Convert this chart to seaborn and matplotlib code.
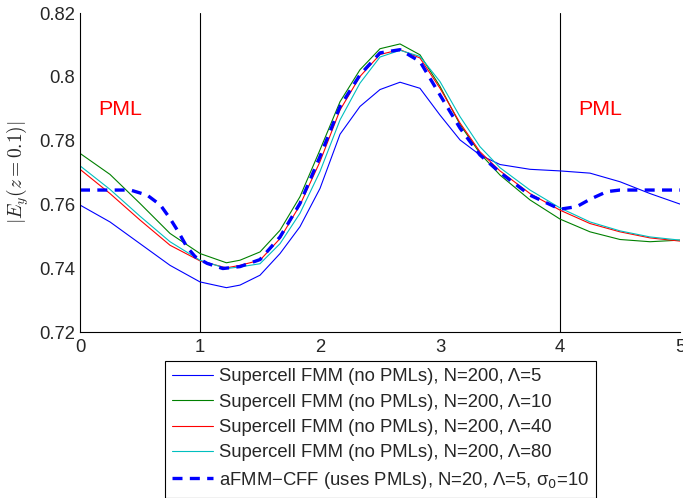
import numpy as np
import pandas as pd
import matplotlib
matplotlib.use("Agg")
import matplotlib.pyplot as plt
import seaborn as sns

# x positions (supercell curves share one grid)
x_sc = [0, 0.25, 0.5, 0.75, 1.0, 1.22, 1.333, 1.5, 1.667, 1.833, 2.0, 2.167,
        2.333, 2.5, 2.667, 2.833, 3.0, 3.167, 3.333, 3.5, 3.75, 4.0, 4.25,
        4.5, 4.75, 5.0]

lam5 = [0.7598, 0.7545, 0.7477, 0.7409, 0.7357, 0.7339, 0.7347, 0.7378,
        0.7446, 0.7530, 0.7650, 0.7820, 0.7907, 0.7960, 0.7983, 0.7964,
        0.7880, 0.7802, 0.7755, 0.7725, 0.7710, 0.7705, 0.7698, 0.7671,
        0.7634, 0.7601]
lam10 = [0.7760, 0.7694, 0.7603, 0.7509, 0.7446, 0.7417, 0.7425, 0.7451,
         0.7519, 0.7624, 0.7771, 0.7922, 0.8022, 0.8088, 0.8103, 0.8069,
         0.7970, 0.7850, 0.7760, 0.7692, 0.7614, 0.7554, 0.7514, 0.7490,
         0.7483, 0.7488]
lam40 = [0.7710, 0.7634, 0.7551, 0.7472, 0.7423, 0.7401, 0.7409, 0.7425,
         0.7493, 0.7598, 0.7734, 0.7896, 0.8001, 0.8070, 0.8085, 0.8059,
         0.7964, 0.7855, 0.7765, 0.7705, 0.7634, 0.7582, 0.7540, 0.7514,
         0.7495, 0.7485]
lam80 = [0.7721, 0.7647, 0.7563, 0.7483, 0.7425, 0.7399, 0.7404, 0.7414,
         0.7477, 0.7572, 0.7703, 0.7865, 0.7980, 0.8062, 0.8083, 0.8064,
         0.7985, 0.7875, 0.7781, 0.7715, 0.7645, 0.7589, 0.7545, 0.7517,
         0.7498, 0.7488]

x_pml = [0, 0.42, 0.56, 0.67, 0.75, 0.82, 0.89, 0.96, 1.06, 1.19, 1.333, 1.5,
         1.667, 1.833, 2.0, 2.167, 2.333, 2.5, 2.667, 2.833, 3.0, 3.167, 3.333,
         3.5, 3.75, 4.0, 4.14, 4.25, 4.39, 4.5, 5.0]
afmm = [0.7645, 0.7645, 0.7629, 0.7598, 0.7556, 0.7514, 0.7467, 0.7436,
        0.7415, 0.7399, 0.7405, 0.7427, 0.7498, 0.7603, 0.7750, 0.7907,
        0.8006, 0.8075, 0.8085, 0.8048, 0.7943, 0.7839, 0.7755, 0.7700,
        0.7629, 0.7585, 0.7593, 0.7616, 0.7640, 0.7645, 0.7645]

labels = ["Supercell FMM (no PMLs), N=200, Λ=5",
          "Supercell FMM (no PMLs), N=200, Λ=10",
          "Supercell FMM (no PMLs), N=200, Λ=40",
          "Supercell FMM (no PMLs), N=200, Λ=80"]
afmm_label = "aFMM\u2212CFF (uses PMLs), N=20, Λ=5, σ$_0$=10"
colors = ["#0000ff", "#008000", "#ff0000", "#00bfbf"]

sns.set_style("white")
plt.rcParams["font.family"] = ["Liberation Sans", "DejaVu Sans"]
plt.rcParams["xtick.direction"] = "in"
plt.rcParams["ytick.direction"] = "in"

FS = 13.3

fig = plt.figure(figsize=(6.83, 4.98), dpi=100)
ax = fig.add_axes([80 / 683, 1 - 332 / 498, 600 / 683, 319 / 498])

df = pd.DataFrame({
    "x": x_sc * 4,
    "y": lam5 + lam10 + lam40 + lam80,
    "series": sum([[l] * len(x_sc) for l in labels], []),
})
sns.lineplot(data=df, x="x", y="y", hue="series", hue_order=labels,
             palette=colors, linewidth=0.8, ax=ax, sort=False)
sns.lineplot(x=x_pml, y=afmm, color="#0000ff", linewidth=2.4,
             dashes=False, ax=ax, label=afmm_label)
ax.lines[-1].set_linestyle((0, (3.0, 2.2)))

handles, labs = ax.get_legend_handles_labels()
if ax.get_legend() is not None:
    ax.get_legend().remove()

ax.axvline(1, color="black", lw=0.8, zorder=0)
ax.axvline(4, color="black", lw=0.8, zorder=0)
ax.text(0.15, 0.7896, "PML", color="red", fontsize=15.4, va="center")
ax.text(4.15, 0.7896, "PML", color="red", fontsize=15.4, va="center")

ax.set_xlim(0, 5)
ax.set_ylim(0.72, 0.82)
ax.set_xticks([0, 1, 2, 3, 4, 5])
ax.set_xticklabels(["0", "1", "2", "3", "4", "5"])
ax.set_yticks([0.72, 0.74, 0.76, 0.78, 0.8, 0.82])
ax.set_yticklabels(["0.72", "0.74", "0.76", "0.78", "0.8", "0.82"])
ax.tick_params(labelsize=FS, length=5, width=0.8, color="black")
ax.tick_params(axis="x", pad=4.7)
ax.tick_params(axis="y", pad=3.6)
ax.set_xlabel("")
ax.set_ylabel(r"$|E_y(z=0.1)|$", fontsize=14, math_fontfamily="cm",
              labelpad=6)
ax.spines["top"].set_visible(False)
ax.spines["right"].set_visible(False)
for s in ["left", "bottom"]:
    ax.spines[s].set_color("black")
    ax.spines[s].set_linewidth(0.8)

leg = fig.legend(handles, labs, loc="upper left",
                 bbox_to_anchor=(165 / 683, 1 - 361 / 498),
                 fontsize=FS, frameon=True, fancybox=False, framealpha=1,
                 edgecolor="black", handlelength=2.2, handletextpad=0.3,
                 labelspacing=0.45, borderpad=0.4, borderaxespad=0)
leg.get_frame().set_linewidth(0.8)

fig.savefig("out.png", dpi=100)
